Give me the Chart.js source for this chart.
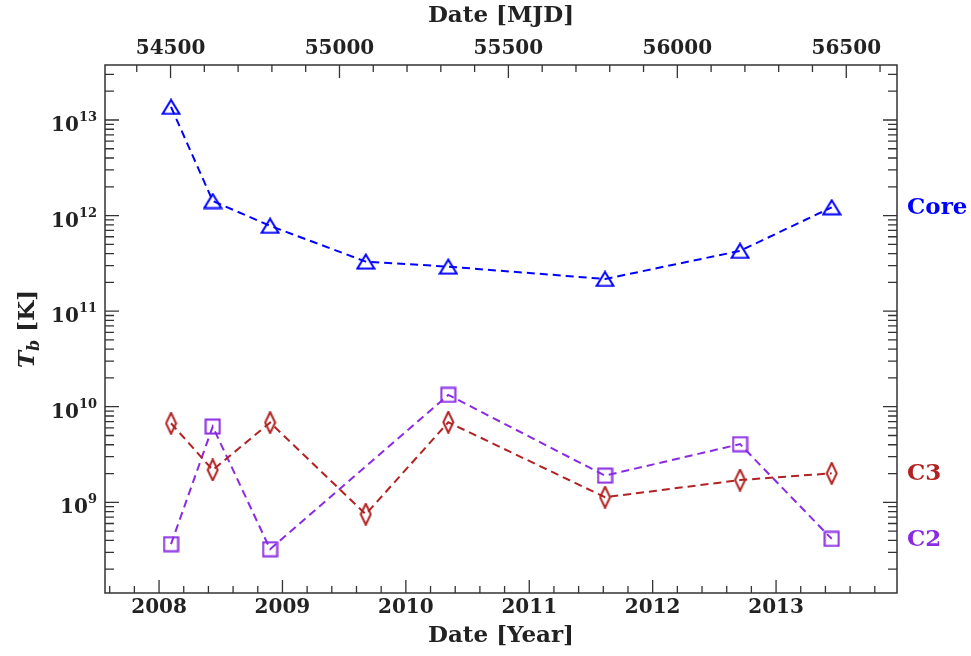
<!DOCTYPE html>
<html lang="en">
<head>
<meta charset="UTF-8" />
<title>Brightness temperature</title>
<script src="https://cdn.jsdelivr.net/npm/chart.js"></script>
<style>
  html, body { margin: 0; padding: 0; background: #fff; }
  canvas { display: block; }
</style>
</head>
<body>
<canvas id="tbChart" width="971" height="656"></canvas>
<script>
// epochs (decimal year) and brightness temperatures [K]
const years = [2008.097, 2008.435, 2008.900, 2009.675, 2010.344, 2011.614, 2012.708, 2013.451];
const coreTb = [1.37e13, 1.42e12, 7.8e11, 3.3e11, 2.92e11, 2.17e11, 4.27e11, 1.22e12];
const c3Tb = [6.71e9, 2.18e9, 6.82e9, 7.5e8, 6.88e9, 1.13e9, 1.71e9, 2.01e9];
const c2Tb = [3.65e8, 6.2e9, 3.23e8, null, 1.33e10, 1.90e9, 4.06e9, 4.14e8];

const yearTicks = [2008, 2009, 2010, 2011, 2012, 2013];
const mjdTicks = [54500, 55000, 55500, 56000, 56500];
const decadeTicks = [9, 10, 11, 12, 13];

const yearMin = 2007.562, yearMax = 2013.98;
const mjdAt2008 = 54466;
const toMjd = yr => mjdAt2008 + (yr - 2008) * 365.25;

const FONT = '"DejaVu Serif", serif';
const TXT = '#222';

// custom IDL-like symbols
function marker(shape, color) {
  const c = document.createElement('canvas');
  const dims = { tri: [20, 17], dia: [13, 23], sq: [17, 17] }[shape];
  c.width = dims[0]; c.height = dims[1];
  const g = c.getContext('2d');
  g.strokeStyle = color; g.lineWidth = 2;
  g.beginPath();
  if (shape === 'tri') {
    g.moveTo(c.width / 2, 1.5); g.lineTo(c.width - 1.5, c.height - 1.5); g.lineTo(1.5, c.height - 1.5);
  } else if (shape === 'dia') {
    g.moveTo(c.width / 2, 1); g.lineTo(c.width - 1.5, c.height / 2);
    g.lineTo(c.width / 2, c.height - 1); g.lineTo(1.5, c.height / 2);
  } else {
    g.rect(1.5, 1.5, c.width - 3, c.height - 3);
  }
  g.closePath(); g.stroke();
  return c;
}

function series(vals, color, shape) {
  return {
    data: years.map((x, i) => ({ x: x, y: vals[i] })),
    borderColor: color,
    borderWidth: 2,
    borderDash: [8, 5],
    pointStyle: marker(shape, color),
    pointRadius: 8,
    spanGaps: true,
    tension: 0,
    fill: false
  };
}

const labelsRight = [
  { text: 'Core', color: '#0000ff', vals: coreTb },
  { text: 'C3', color: '#b22222', vals: c3Tb },
  { text: 'C2', color: '#8a2be2', vals: c2Tb }
];

const axesPlugin = {
  id: 'axesPlugin',
  afterDraw(chart) {
    const { ctx, chartArea: a, scales } = chart;
    const x = scales.x, x2 = scales.x2, y = scales.y;
    ctx.save();
    ctx.strokeStyle = '#333';
    ctx.lineWidth = 1.5;
    ctx.strokeRect(a.left, a.top, a.right - a.left, a.bottom - a.top);
    ctx.lineWidth = 1.3;
    ctx.beginPath();
    // bottom: years, minor every 0.2
    for (let k = Math.ceil(yearMin * 5); k <= Math.floor(yearMax * 5); k++) {
      const px = x.getPixelForValue(k / 5);
      const len = k % 5 === 0 ? 13 : 7;
      ctx.moveTo(px, a.bottom); ctx.lineTo(px, a.bottom - len);
    }
    // top: MJD, minor every 100 d
    for (let m = Math.ceil(x2.min / 100) * 100; m <= x2.max; m += 100) {
      const px = x2.getPixelForValue(m);
      const len = m % 500 === 0 ? 13 : 7;
      ctx.moveTo(px, a.top); ctx.lineTo(px, a.top + len);
    }
    // left/right: log decades
    for (let e = 8; e <= 13; e++) {
      for (let d = 1; d <= 9; d++) {
        const v = d * Math.pow(10, e);
        if (v < y.min || v > y.max) continue;
        const py = y.getPixelForValue(v);
        const len = d === 1 ? 14 : 9;
        ctx.moveTo(a.left, py); ctx.lineTo(a.left + len, py);
        ctx.moveTo(a.right, py); ctx.lineTo(a.right - len, py);
      }
    }
    ctx.stroke();

    ctx.fillStyle = TXT;
    ctx.font = 'bold 20px ' + FONT;
    ctx.textAlign = 'center';
    ctx.textBaseline = 'middle';
    yearTicks.forEach(v => ctx.fillText(String(v), x.getPixelForValue(v), a.bottom + 15));
    mjdTicks.forEach(v => ctx.fillText(String(v), x2.getPixelForValue(v), a.top - 16));

    // y tick labels 10^n
    ctx.textBaseline = 'alphabetic';
    decadeTicks.forEach(e => {
      const py = y.getPixelForValue(Math.pow(10, e));
      ctx.font = 'bold 13px ' + FONT;
      const ew = ctx.measureText(String(e)).width;
      ctx.textAlign = 'right';
      ctx.fillText(String(e), a.left - 8, py + 1);
      ctx.font = 'bold 20px ' + FONT;
      ctx.fillText('10', a.left - 8 - ew, py + 11);
    });

    // axis titles
    ctx.font = 'bold 23px ' + FONT;
    ctx.textAlign = 'center';
    ctx.textBaseline = 'middle';
    const cx = (a.left + a.right) / 2;
    ctx.fillText('Date [Year]', cx, 636);
    ctx.fillText('Date [MJD]', cx, 16);

    // y title: T_b [K]
    ctx.save();
    ctx.translate(26, (a.top + a.bottom) / 2);
    ctx.rotate(-Math.PI / 2);
    ctx.textAlign = 'left';
    ctx.textBaseline = 'alphabetic';
    const fT = 'bold italic 23px ' + FONT, fb = 'bold italic 16px ' + FONT, fK = 'bold 23px ' + FONT;
    ctx.font = fT; const wT = ctx.measureText('T').width;
    ctx.font = fb; const wb = ctx.measureText('b').width;
    ctx.font = fK; const wK = ctx.measureText(' [K]').width;
    let sx = -(wT + wb + wK) / 2;
    const base = 8;
    ctx.font = fT; ctx.fillText('T', sx, base); sx += wT;
    ctx.font = fb; ctx.fillText('b', sx, base + 5); sx += wb;
    ctx.font = fK; ctx.fillText(' [K]', sx, base);
    ctx.restore();

    // series labels on the right
    ctx.font = 'bold 23px ' + FONT;
    ctx.textAlign = 'left';
    ctx.textBaseline = 'middle';
    labelsRight.forEach(l => {
      ctx.fillStyle = l.color;
      ctx.fillText(l.text, a.right + 10, y.getPixelForValue(l.vals[l.vals.length - 1]) + 1);
    });
    ctx.restore();
  }
};

new Chart(document.getElementById('tbChart').getContext('2d'), {
  type: 'line',
  data: {
    datasets: [
      series(coreTb, '#0000ff', 'tri'),
      series(c3Tb, '#b22222', 'dia'),
      series(c2Tb, '#8a2be2', 'sq')
    ]
  },
  options: {
    responsive: false,
    animation: false,
    layout: { padding: { left: 105, top: 65, right: 74, bottom: 63 } },
    scales: {
      x: { type: 'linear', display: false, bounds: 'data', min: yearMin, max: yearMax },
      x2: { type: 'linear', display: false, bounds: 'data', min: toMjd(yearMin), max: toMjd(yearMax) },
      y: { type: 'logarithmic', display: false, bounds: 'data', min: 1.125e8, max: 3.76e13 }
    },
    plugins: {
      legend: { display: false },
      tooltip: { enabled: false }
    }
  },
  plugins: [axesPlugin]
});
</script>
</body>
</html>
